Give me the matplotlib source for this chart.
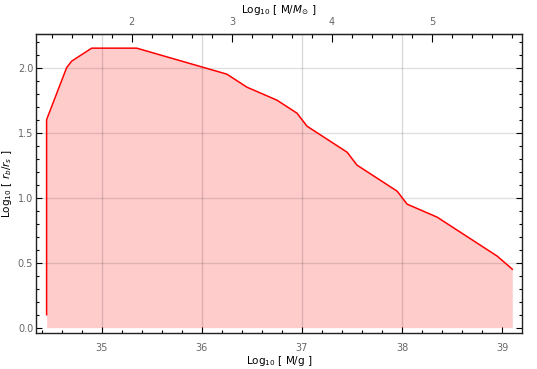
import numpy as np
import matplotlib.pyplot as plt
from matplotlib.ticker import MultipleLocator

# curve: Log10 M [g] vs Log10 r_b/r_s
log_m = [34.45, 34.45, 34.65, 34.70, 34.90, 35.35, 36.25, 36.45, 36.75,
         36.95, 37.05, 37.45, 37.55, 37.95, 38.05, 38.35, 38.95, 39.10]
log_r = [0.10, 1.60, 2.00, 2.05, 2.15, 2.15, 1.95, 1.85, 1.75,
         1.65, 1.55, 1.35, 1.25, 1.05, 0.95, 0.85, 0.55, 0.45]
grid_x = [35, 36, 37, 38]
grid_y = [0.5, 1.0, 1.5, 2.0]
msun_offset = 33.3  # log10 of solar mass in grams

fig = plt.figure(figsize=(5.37, 3.69), dpi=100)
ax = fig.add_axes([36/537, 36/369, (521.7-36)/537, (333-34)/369])

ax.fill_between(log_m, 0, log_r, color='#ffcccc', lw=0, zorder=1)
ax.plot(log_m, log_r, color='red', lw=1.1, zorder=3)
for g in grid_x:
    ax.axvline(g, color='black', alpha=0.15, lw=1, zorder=2)
for g in grid_y:
    ax.axhline(g, color='black', alpha=0.12, lw=1, zorder=2)

ax.set_xlim(34.344, 39.194)
ax.set_ylim(-0.041, 2.259)

tick_col = '#666666'
ax.xaxis.set_major_locator(MultipleLocator(1))
ax.xaxis.set_minor_locator(MultipleLocator(0.2))
ax.yaxis.set_major_locator(MultipleLocator(0.5))
ax.yaxis.set_minor_locator(MultipleLocator(0.1))
ax.yaxis.set_major_formatter(plt.FuncFormatter(lambda v, p: f'{v:.1f}'))
ax.tick_params(which='both', direction='in', labelsize=7, labelcolor=tick_col,
               top=False, right=True, width=0.8)
ax.tick_params(which='major', length=4)
ax.tick_params(which='minor', length=2)
ax.tick_params(axis='x', which='major', pad=7)
ax.tick_params(axis='y', which='major', pad=2)

top = ax.secondary_xaxis('top', functions=(lambda x: x - msun_offset,
                                           lambda x: x + msun_offset))
top.xaxis.set_major_locator(MultipleLocator(1))
top.xaxis.set_minor_locator(MultipleLocator(0.2))
top.tick_params(which='both', direction='in', labelsize=7, labelcolor=tick_col, width=0.8)
top.tick_params(which='major', length=6, pad=5)
top.tick_params(which='minor', length=3)
top.set_xlabel(r'Log$_{10}$ [ M/$M_{\odot}$ ]', fontsize=7.5, labelpad=3)

for s in ax.spines.values():
    s.set_linewidth(1.0)
    s.set_color('#222222')

ax.set_xlabel(r'Log$_{10}$ [ M/g ]', fontsize=7.5, labelpad=1)
ax.set_ylabel(r'Log$_{10}$ [ $r_b/r_s$ ]', fontsize=7.5)
ax.yaxis.set_label_coords(-0.046, 0.5)

fig.savefig('out.png', dpi=100)
